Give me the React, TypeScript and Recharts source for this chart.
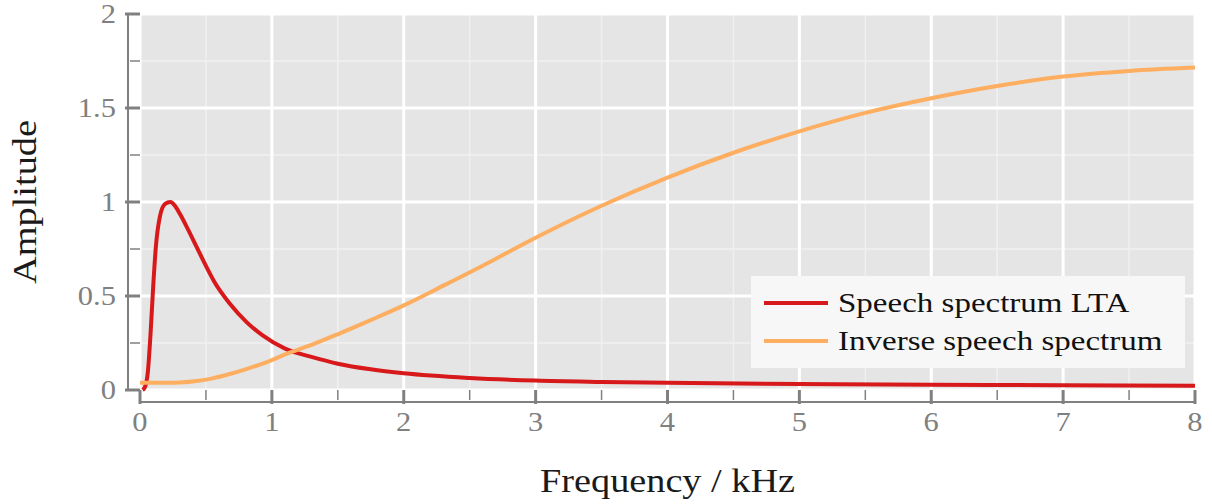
import { LineChart, Line, XAxis, YAxis, CartesianGrid, Legend } from "recharts";

// Speech spectrum (long-term average)
const speechFreq = [0.02, 0.04, 0.06, 0.08, 0.1, 0.12, 0.15, 0.19, 0.23, 0.27, 0.3, 0.36, 0.43, 0.5, 0.56, 0.68, 0.81, 0.93, 1.1, 1.3, 1.5, 1.75, 2.0, 2.5, 3.0, 3.5, 4.0, 5.0, 6.0, 7.0, 8.0];
const speechAmp = [0, 0.02, 0.1, 0.3, 0.55, 0.76, 0.92, 0.99, 1.0, 0.975, 0.94, 0.86, 0.76, 0.66, 0.58, 0.46, 0.36, 0.29, 0.22, 0.176, 0.14, 0.11, 0.089, 0.064, 0.05, 0.043, 0.038, 0.032, 0.028, 0.025, 0.023];

// Inverse speech spectrum
const inverseFreq = [0, 0.1, 0.2, 0.3, 0.43, 0.55, 0.68, 0.8, 0.93, 1.14, 1.3, 1.52, 1.75, 2.0, 2.3, 2.58, 3.0, 3.5, 4.0, 4.5, 5.0, 5.5, 6.0, 6.5, 7.0, 7.5, 8.0];
const inverseAmp = [0.038, 0.038, 0.038, 0.04, 0.048, 0.062, 0.085, 0.11, 0.14, 0.2, 0.24, 0.303, 0.372, 0.45, 0.555, 0.654, 0.81, 0.98, 1.13, 1.262, 1.376, 1.474, 1.552, 1.617, 1.667, 1.697, 1.715];

const seriesNames = ["Speech spectrum LTA", "Inverse speech spectrum"];

const xTicks = [0, 0.5, 1, 1.5, 2, 2.5, 3, 3.5, 4, 4.5, 5, 5.5, 6, 6.5, 7, 7.5, 8];
const yTicks = [0, 0.25, 0.5, 0.75, 1, 1.25, 1.5, 1.75, 2];
const xMajor = [0, 1, 2, 3, 4, 5, 6, 7, 8];
const xMinor = [0.5, 1.5, 2.5, 3.5, 4.5, 5.5, 6.5, 7.5];
const yMajor = [0, 0.5, 1, 1.5, 2];
const yMinor = [0.25, 0.75, 1.25, 1.75];

const speechData = speechFreq.map((f, i) => ({ f, v: speechAmp[i] }));
const inverseData = inverseFreq.map((f, i) => ({ f, v: inverseAmp[i] }));

const SERIF = '"Liberation Serif", "Times New Roman", serif';
const GREY = "#808080";
const RED = "#d7191c";
const ORANGE = "#fdae61";
// the original typesetting is a bit wider than Liberation Serif
const STRETCH = 1.13;

const XTick = ({ x, y, payload }: any) => {
  const major = xMajor.includes(payload.value);
  return (
    <g>
      <line x1={x} x2={x} y1={y} y2={y + (major ? 14 : 10)} stroke={GREY} strokeWidth={major ? 3 : 1.5} />
      {major && (
        <g transform={`translate(${x}, ${y + 41}) scale(${STRETCH}, 1)`}>
          <text x={0} y={0} textAnchor="middle" fill={GREY} fontSize={27} fontFamily={SERIF}>
            {payload.value}
          </text>
        </g>
      )}
    </g>
  );
};

const YTick = ({ x, y, payload }: any) => {
  const major = yMajor.includes(payload.value);
  return (
    <g>
      <line x1={x} x2={x - (major ? 15 : 10)} y1={y} y2={y} stroke={GREY} strokeWidth={major ? 3 : 1.5} />
      {major && (
        <g transform={`translate(${x - 24}, ${y}) scale(${STRETCH}, 1)`}>
          <text x={0} y={0} textAnchor="end" dominantBaseline="central" fill={GREY} fontSize={27} fontFamily={SERIF}>
            {payload.value}
          </text>
        </g>
      )}
    </g>
  );
};

const XTitle = ({ viewBox }: any) => (
  <text
    x={viewBox.x + viewBox.width / 2}
    y={viewBox.y + 90}
    textAnchor="middle"
    fontSize={33}
    fontFamily={SERIF}
    fill="#1a1a1a"
    textLength={255}
    lengthAdjust="spacingAndGlyphs"
  >
    Frequency / kHz
  </text>
);

const YTitle = ({ viewBox }: any) => {
  const cx = viewBox.x + 37;
  const cy = viewBox.y + viewBox.height / 2;
  return (
    <text
      x={cx}
      y={cy}
      transform={`rotate(-90, ${cx}, ${cy})`}
      textAnchor="middle"
      dominantBaseline="central"
      fontSize={33}
      fontFamily={SERIF}
      fill="#1a1a1a"
      textLength={164}
      lengthAdjust="spacingAndGlyphs"
    >
      Amplitude
    </text>
  );
};

const LegendBox = ({ payload }: any) => {
  const items = seriesNames
    .map((n) => (payload || []).find((p: any) => p.value === n))
    .filter(Boolean);
  return (
    <div style={{ background: "#f7f7f7", width: 434, height: 92, paddingTop: 8, boxSizing: "border-box" }}>
      {items.map((p: any) => (
        <div key={p.value} style={{ display: "flex", alignItems: "center", height: 38 }}>
          <div style={{ width: 64, height: 4, background: p.color, marginLeft: 13, marginRight: 10 }} />
          <span
            style={{
              display: "inline-block",
              fontFamily: SERIF,
              fontSize: 27.5,
              color: "#111",
              whiteSpace: "nowrap",
              transform: "scaleX(1.2)",
              transformOrigin: "left center",
            }}
          >
            {p.value}
          </span>
        </div>
      ))}
    </div>
  );
};

export default function App() {
  return (
    <div>
      <style>{`body{margin:0}.recharts-xAxis{transform:translateY(12px)}.recharts-yAxis{transform:translateX(-12px)}`}</style>
      <LineChart width={1212} height={504} margin={{ top: 14, right: 17, left: 0, bottom: 0 }}>
        <CartesianGrid
          fill="#e5e5e5"
          stroke="#f0f0f0"
          strokeWidth={1.5}
          horizontalValues={yMinor}
          verticalValues={xMinor}
        />
        <CartesianGrid stroke="#ffffff" strokeWidth={3} horizontalValues={yMajor} verticalValues={xMajor} />
        <XAxis
          type="number"
          dataKey="f"
          domain={[0, 8]}
          ticks={xTicks}
          interval={0}
          height={114}
          tickSize={0}
          tickMargin={0}
          tickLine={false}
          axisLine={{ stroke: GREY, strokeWidth: 2 }}
          tick={<XTick />}
          label={<XTitle />}
        />
        <YAxis
          type="number"
          domain={[0, 2]}
          ticks={yTicks}
          interval={0}
          width={140}
          tickSize={0}
          tickMargin={0}
          tickLine={false}
          axisLine={{ stroke: GREY, strokeWidth: 2 }}
          tick={<YTick />}
          label={<YTitle />}
        />
        <Legend
          layout="horizontal"
          verticalAlign="middle"
          align="center"
          content={<LegendBox />}
          wrapperStyle={{ left: 751, top: 276, width: 434, height: 92 }}
        />
        <Line
          data={speechData}
          dataKey="v"
          name={seriesNames[0]}
          type="monotone"
          stroke={RED}
          strokeWidth={4}
          dot={false}
          isAnimationActive={false}
        />
        <Line
          data={inverseData}
          dataKey="v"
          name={seriesNames[1]}
          type="monotone"
          stroke={ORANGE}
          strokeWidth={4}
          dot={false}
          isAnimationActive={false}
        />
      </LineChart>
    </div>
  );
}
